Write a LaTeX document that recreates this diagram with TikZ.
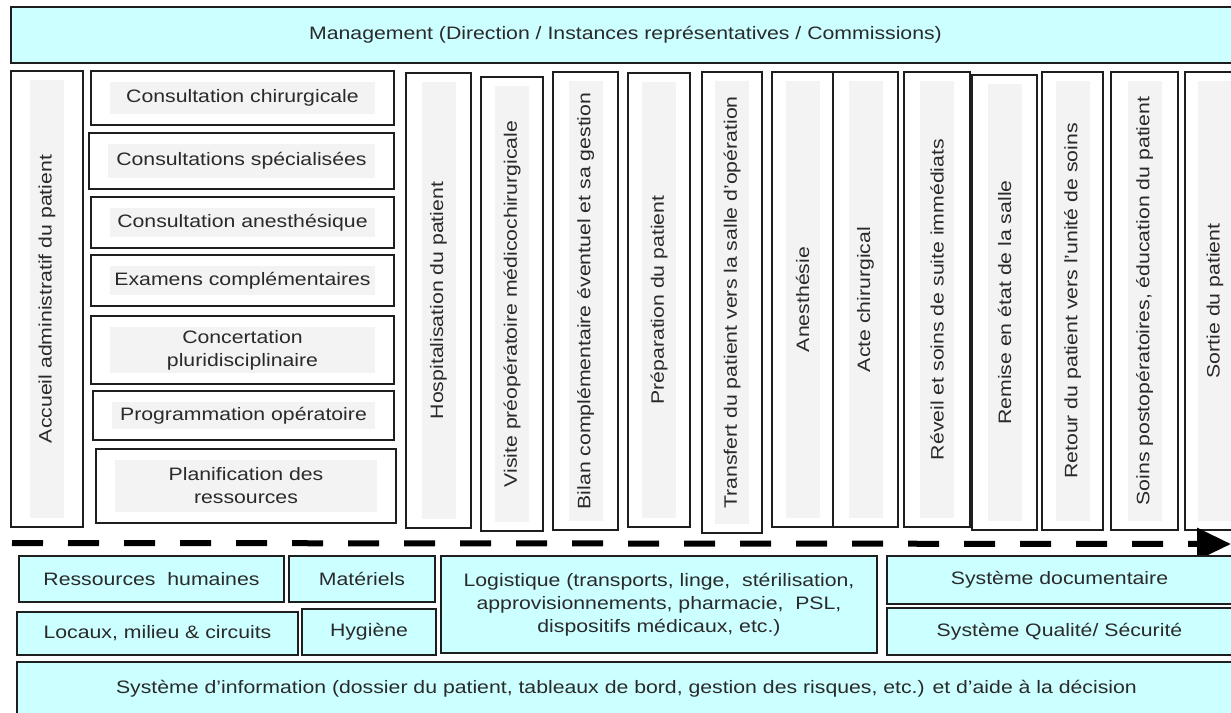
\documentclass[tikz,border=0pt]{standalone}
\usepackage{fontspec}
\setmainfont{Liberation Sans}[FakeStretch=1.18]
\usetikzlibrary{arrows.meta}

\definecolor{linecol}{HTML}{1E1E1E}
\definecolor{cyanfill}{HTML}{CCFFFF}
\definecolor{bandgray}{HTML}{F3F3F3}
\definecolor{textcol}{HTML}{2A2A2A}

\tikzset{
  stagebox/.style={draw=linecol, line width=1.8pt, fill=white, inner sep=0pt},
  supportbox/.style={draw=linecol, line width=1.8pt, fill=cyanfill, inner sep=0pt,
    align=center, text=textcol, font=\fontsize{18}{23}\selectfont},
  band/.style={fill=bandgray, inner sep=0pt, align=center, text=textcol,
    font=\fontsize{18}{23}\selectfont},
  flowline/.style={draw=black, line width=6pt, dash pattern=on 31pt off 25pt,
    -{Triangle[length=34pt,width=31pt]}}
}

% vertical stage: name, x1, x2, y1, y2, label
\newcommand\vstage[6]{%
  \node[stagebox, minimum width={#3-#2}, minimum height={#5-#4}] (#1)
    at ({(#2+#3)/2},{(#4+#5)/2}) {};
  \node[band, rotate=90, minimum width={#5-#4-18}, minimum height=34] (#1t)
    at (#1.center) {#6};
}
% horizontal stage box: name, x1, x2, y1, y2, label
\newcommand\hstage[6]{%
  \node[stagebox, minimum width={#3-#2}, minimum height={#5-#4}] (#1)
    at ({(#2+#3)/2},{(#4+#5)/2}) {};
  \node[band, minimum width={#3-#2-38}, minimum height={#5-#4-22}] (#1t)
    at (#1.center) {#6};
}
% support box: name, x1, x2, y1, y2, label
\newcommand\support[6]{%
  \node[supportbox, minimum width={#3-#2}, minimum height={#5-#4}] (#1)
    at ({(#2+#3)/2},{(#4+#5)/2}) {#6};
}

\begin{document}
\begin{tikzpicture}[x=1pt,y=-1pt]
\useasboundingbox (0,0) rectangle (1231,712);
\clip (0,0) rectangle (1231,712);
\fill[white] (0,0) rectangle (1231,712);

% management band
\support{mgmt}{11}{1240}{7}{63}{Management (Direction / Instances représentatives / Commissions)}

% patient pathway stages
\vstage{accueil}{11}{83}{71}{527}{Accueil administratif du patient}

\hstage{chir}{91}{394}{71}{125}{Consultation chirurgicale}
\hstage{spec}{89}{394}{133}{189}{Consultations spécialisées}
\hstage{anesc}{91}{394}{197}{248}{Consultation anesthésique}
\hstage{exam}{91}{394}{255}{306}{Examens complémentaires}
\hstage{conc}{91}{394}{316}{384}{Concertation\\pluridisciplinaire}
\hstage{prog}{93}{394}{391}{440}{Programmation opératoire}
\hstage{plan}{96}{396}{449}{523}{Planification des\\ressources}

\vstage{hosp}{406}{471}{73}{528}{Hospitalisation du patient}
\vstage{visite}{481}{543}{77}{531}{Visite préopératoire médicochirurgicale}
\vstage{bilan}{553}{618}{72}{530}{Bilan complémentaire éventuel et sa gestion}
\vstage{prep}{628}{690}{73}{527}{Préparation du patient}
\vstage{transf}{702}{762}{72}{533}{Transfert du patient vers la salle d’opération}
\vstage{anes}{772}{833}{72}{527}{Anesthésie}
\vstage{acte}{833}{898}{72}{527}{Acte chirurgical}
\vstage{reveil}{904}{970}{72}{527}{Réveil et soins de suite immédiats}
\vstage{remise}{972}{1037}{75}{530}{Remise en état de la salle}
\vstage{retour}{1042}{1103}{72}{530}{Retour du patient vers l’unité de soins}
\vstage{postop}{1111}{1178}{72}{530}{Soins postopératoires, éducation du patient}
\vstage{sortie}{1185}{1245}{72}{530}{Sortie du patient}

% flow direction
\coordinate (flowstart) at (12,543);
\coordinate (flowend) at (1231,544);
\draw[flowline] (flowstart) -- (flowend);

% support functions
\support{rh}{19}{284}{556}{602}{Ressources\ \ humaines}
\support{mat}{289}{435}{556}{602}{Matériels}
\support{locaux}{17}{298}{612}{655}{Locaux, milieu \& circuits}
\support{hyg}{302}{436}{609}{655}{Hygiène}
\support{logi}{441}{877}{556}{653}{Logistique (transports, linge,\ \ stérilisation,\\approvisionnements, pharmacie,\ \ PSL,\\dispositifs médicaux, etc.)}
\support{docu}{887}{1232}{556}{604}{Système documentaire}
\support{qual}{887}{1232}{608}{655}{Système Qualité/ Sécurité}
\support{info}{17}{1236}{662}{716}{Système d’information (dossier du patient, tableaux de bord, gestion des risques, etc.) et d’aide à la décision}
\end{tikzpicture}
\end{document}
